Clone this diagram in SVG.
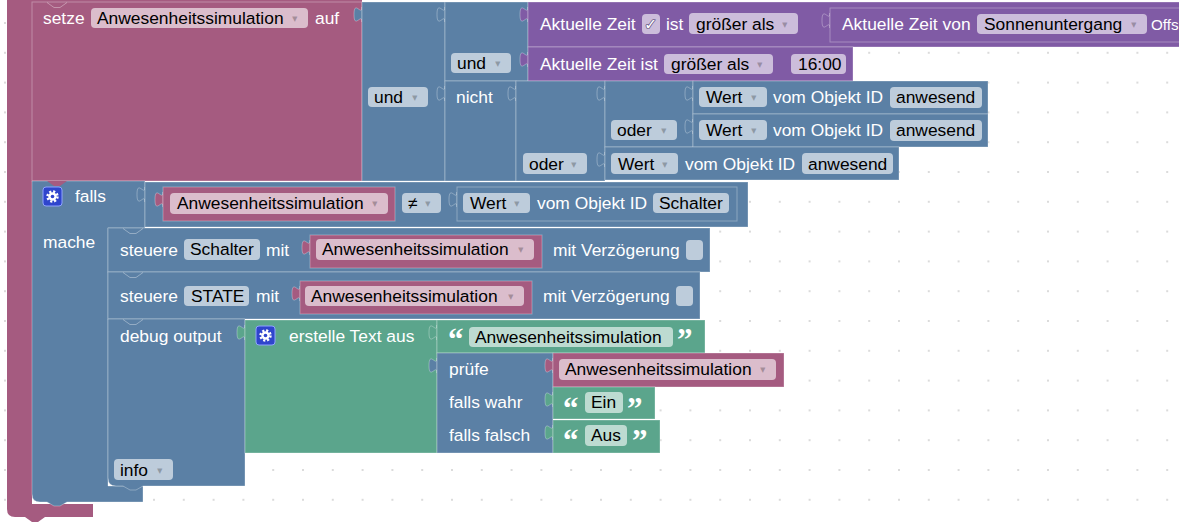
<svg xmlns="http://www.w3.org/2000/svg" xmlns:xlink="http://www.w3.org/1999/xlink" width="1179" height="526" viewBox="0 0 1179 526">
<defs>
<pattern id="grid" x="4" y="22" width="29.8" height="29.8" patternUnits="userSpaceOnUse"><circle cx="1" cy="1" r="1" fill="#cfcfcf"/></pattern>
<path id="tab" d="M0,5 c0,10 -8,-8 -8,7.5 s8,-2.5 8,7.5 z"/>
<g id="gear"><rect x="0" y="0" width="19" height="19" rx="3" fill="#2f45cc" stroke="#8fa3ff" stroke-width="1"/><circle cx="9.5" cy="9.5" r="5" fill="none" stroke="#fff" stroke-width="2.4" stroke-dasharray="2.1 1.83"/><circle cx="9.5" cy="9.5" r="4.2" fill="#fff"/><circle cx="9.5" cy="9.5" r="1.8" fill="#2f45cc"/></g>
</defs>
<style>
.pk{fill:#a55b80}.bl{fill:#5b80a5}.pu{fill:#805ba5}.gr{fill:#5ba58c}
.blk{stroke:#ffffff;stroke-opacity:.3;stroke-width:1}
.fld{fill:#fff;fill-opacity:.6}
.lbl{font-family:"Liberation Sans",Arial,sans-serif;font-size:17.4px;fill:#fff}
.ft{font-family:"Liberation Sans",Arial,sans-serif;font-size:17.4px;fill:#000}
.arr{font-family:"DejaVu Sans",sans-serif;font-size:11px;fill:#000;fill-opacity:.25}
.chk{font-family:"DejaVu Sans",sans-serif;font-size:16px;fill:#fff;stroke:#6a5a88;stroke-width:1.6;paint-order:stroke}
.q{font-family:"Liberation Serif",serif;font-weight:bold;font-size:31px;fill:#fff}
.ln{fill:none;stroke:#fff;stroke-opacity:.35;stroke-width:1}
</style>
<rect width="1179" height="526" fill="#fff"/>
<rect width="1179" height="526" fill="url(#grid)"/>

<g id="frame">
<path class="pk" d="M7,0 H362 V2 H32 V504 H93 V517 H45 l-7,5 h-6 l-7,-5 H15 Q7,517 7,509 Z"/>
</g>

<g id="setze">
<rect class="pk blk" x="32" y="2" width="330" height="179"/>
<path class="ln" d="M47,2.5 l7,5 h6 l7,-5"/>
<text class="lbl" x="43" y="24">setze</text>
<rect class="fld" x="91" y="8" width="217" height="20" rx="4"/>
<text class="ft" x="97" y="24">Anwesenheitssimulation</text>
<text class="arr" x="292" y="22">▾</text>
<text class="lbl" x="315" y="24">auf</text>
</g>

<g id="und-outer">
<use xlink:href="#tab" x="362" y="2" class="bl blk"/>
<rect class="bl blk" x="362" y="2" width="83" height="179"/>
<rect class="fld" x="368" y="87" width="60" height="20" rx="4"/>
<text class="ft" x="374" y="103">und</text>
<text class="arr" x="412" y="101">▾</text>
</g>

<g id="und-inner">
<use xlink:href="#tab" x="445" y="2" class="bl blk"/>
<rect class="bl blk" x="445" y="2" width="83" height="79"/>
<rect class="fld" x="451" y="53" width="60" height="20" rx="4"/>
<text class="ft" x="457" y="69">und</text>
<text class="arr" x="495" y="67">▾</text>
</g>

<g id="zeit1">
<use xlink:href="#tab" x="528" y="2" class="pu blk"/>
<rect class="pu blk" x="528" y="2" width="670" height="45"/>
<text class="lbl" x="540" y="30">Aktuelle Zeit</text>
<rect class="fld" x="642" y="14" width="18" height="20" rx="4"/>
<text class="chk" x="644" y="30">✓</text>
<text class="lbl" x="666" y="30">ist</text>
<rect class="fld" x="689" y="13" width="109" height="21" rx="4"/>
<text class="ft" x="696" y="30">größer als</text>
<text class="arr" x="782" y="28">▾</text>
</g>

<g id="zeit-von">
<use xlink:href="#tab" x="830" y="8" class="pu blk"/>
<rect class="pu blk" x="830" y="8" width="370" height="34"/>
<text class="lbl" x="842" y="30">Aktuelle Zeit von</text>
<rect class="fld" x="977" y="14" width="170" height="20" rx="4"/>
<text class="ft" x="984" y="30">Sonnenuntergang</text>
<text class="arr" x="1131" y="28">▾</text>
<text class="lbl" x="1151" y="30" style="font-size:15.2px">Offs</text>
</g>

<g id="zeit2">
<use xlink:href="#tab" x="528" y="47" class="pu blk"/>
<rect class="pu blk" x="528" y="47" width="325" height="34"/>
<text class="lbl" x="540" y="70">Aktuelle Zeit ist</text>
<rect class="fld" x="664" y="54" width="109" height="20" rx="4"/>
<text class="ft" x="671" y="70">größer als</text>
<text class="arr" x="757" y="68">▾</text>
<rect class="fld" x="791" y="54" width="55" height="20" rx="4"/>
<text class="ft" x="798" y="70">16:00</text>
</g>

<g id="nicht">
<use xlink:href="#tab" x="445" y="81" class="bl blk"/>
<rect class="bl blk" x="445" y="81" width="71" height="100"/>
<text class="lbl" x="456" y="103">nicht</text>
</g>

<g id="oder-outer">
<use xlink:href="#tab" x="516" y="81" class="bl blk"/>
<rect class="bl blk" x="516" y="81" width="89" height="100"/>
<rect class="fld" x="523" y="153" width="64" height="21" rx="4"/>
<text class="ft" x="529" y="170">oder</text>
<text class="arr" x="571" y="168">▾</text>
</g>

<g id="oder-inner">
<use xlink:href="#tab" x="605" y="81" class="bl blk"/>
<rect class="bl blk" x="605" y="81" width="88" height="66"/>
<rect class="fld" x="611" y="120" width="66" height="20" rx="4"/>
<text class="ft" x="617" y="136">oder</text>
<text class="arr" x="661" y="134">▾</text>
</g>

<g id="wert1">
<use xlink:href="#tab" x="693" y="81" class="bl blk"/>
<rect class="bl blk" x="693" y="81" width="295" height="33"/>
<rect class="fld" x="699" y="87" width="68" height="20" rx="4"/>
<text class="ft" x="706" y="103">Wert</text>
<text class="arr" x="751" y="101">▾</text>
<text class="lbl" x="773" y="103">vom Objekt ID</text>
<rect class="fld" x="890" y="87" width="92" height="21" rx="4"/>
<text class="ft" x="896" y="103">anwesend</text>
</g>

<g id="wert2">
<use xlink:href="#tab" x="693" y="114" class="bl blk"/>
<rect class="bl blk" x="693" y="114" width="295" height="33"/>
<rect class="fld" x="699" y="120" width="68" height="20" rx="4"/>
<text class="ft" x="706" y="136">Wert</text>
<text class="arr" x="751" y="134">▾</text>
<text class="lbl" x="773" y="136">vom Objekt ID</text>
<rect class="fld" x="890" y="120" width="92" height="21" rx="4"/>
<text class="ft" x="896" y="136">anwesend</text>
</g>

<g id="wert3">
<use xlink:href="#tab" x="605" y="147" class="bl blk"/>
<rect class="bl blk" x="605" y="147" width="294" height="33"/>
<rect class="fld" x="611" y="153" width="67" height="21" rx="4"/>
<text class="ft" x="618" y="170">Wert</text>
<text class="arr" x="662" y="168">▾</text>
<text class="lbl" x="685" y="170">vom Objekt ID</text>
<rect class="fld" x="802" y="153" width="91" height="21" rx="4"/>
<text class="ft" x="808" y="170">anwesend</text>
</g>

<g id="falls">
<path class="bl blk" d="M32,181 H145 V228 H108 V486 H143 V502 H67 l-7,4 h-6 l-7,-4 H40 Q32,502 32,494 Z"/>
<path class="pk" d="M47,181 l7,5 h6 l7,-5 Z"/>
<use xlink:href="#gear" x="43" y="187"/>
<text class="lbl" x="75" y="202">falls</text>
<text class="lbl" x="43" y="248">mache</text>
</g>

<g id="compare">
<use xlink:href="#tab" x="145" y="182" class="bl blk"/>
<rect class="bl blk" x="145" y="182" width="603" height="45"/>
<rect class="fld" x="402" y="193" width="39" height="20" rx="4"/>
<text class="ft" x="408" y="209">≠</text>
<text class="arr" x="425" y="207">▾</text>
</g>

<g id="var-get1">
<use xlink:href="#tab" x="163" y="187" class="pk blk"/>
<rect class="pk blk" x="163" y="187" width="232" height="34"/>
<rect class="fld" x="170" y="193" width="218" height="21" rx="4"/>
<text class="ft" x="177" y="209">Anwesenheitssimulation</text>
<text class="arr" x="372" y="207">▾</text>
</g>

<g id="wert-schalter">
<use xlink:href="#tab" x="457" y="187" class="bl blk"/>
<rect class="bl blk" x="457" y="187" width="280" height="34"/>
<rect class="fld" x="463" y="193" width="67" height="20" rx="4"/>
<text class="ft" x="470" y="209">Wert</text>
<text class="arr" x="514" y="207">▾</text>
<text class="lbl" x="537" y="209">vom Objekt ID</text>
<rect class="fld" x="653" y="193" width="76" height="20" rx="4"/>
<text class="ft" x="659" y="209">Schalter</text>
</g>

<g id="steuere1">
<rect class="bl blk" x="108" y="228" width="602" height="44"/>
<path class="ln" d="M123,228.5 l7,5 h6 l7,-5"/>
<text class="lbl" x="120" y="256">steuere</text>
<rect class="fld" x="184" y="239" width="76" height="21" rx="4"/>
<text class="ft" x="190" y="255">Schalter</text>
<text class="lbl" x="266" y="256">mit</text>
<text class="lbl" x="553" y="256">mit Verzögerung</text>
<rect class="fld" x="686" y="240" width="17" height="20" rx="4"/>
</g>

<g id="var-get2">
<use xlink:href="#tab" x="310" y="235" class="pk blk"/>
<rect class="pk blk" x="310" y="235" width="232" height="33"/>
<rect class="fld" x="316" y="239" width="218" height="21" rx="4"/>
<text class="ft" x="322" y="255">Anwesenheitssimulation</text>
<text class="arr" x="518" y="253">▾</text>
</g>

<g id="steuere2">
<rect class="bl blk" x="108" y="272" width="592" height="47"/>
<path class="ln" d="M123,272.5 l7,5 h6 l7,-5"/>
<text class="lbl" x="120" y="302">steuere</text>
<rect class="fld" x="184" y="286" width="65" height="20" rx="4"/>
<text class="ft" x="191" y="302">STATE</text>
<text class="lbl" x="256" y="302">mit</text>
<text class="lbl" x="543" y="302">mit Verzögerung</text>
<rect class="fld" x="676" y="286" width="17" height="20" rx="4"/>
</g>

<g id="var-get3">
<use xlink:href="#tab" x="300" y="281" class="pk blk"/>
<rect class="pk blk" x="300" y="281" width="232" height="33"/>
<rect class="fld" x="305" y="286" width="219" height="20" rx="4"/>
<text class="ft" x="311" y="302">Anwesenheitssimulation</text>
<text class="arr" x="508" y="300">▾</text>
</g>

<g id="debug">
<path class="bl blk" d="M108,319 H245 V486 H143 l-7,4 h-6 l-7,-4 H116 Q108,486 108,478 Z"/>
<path class="ln" d="M123,319.5 l7,5 h6 l7,-5"/>
<text class="lbl" x="120" y="342">debug output</text>
<rect class="fld" x="114" y="459" width="59" height="21" rx="4"/>
<text class="ft" x="120" y="476">info</text>
<text class="arr" x="157" y="474">▾</text>
</g>

<g id="text-join">
<use xlink:href="#tab" x="245" y="320" class="gr blk"/>
<rect class="gr blk" x="245" y="320" width="192" height="133"/>
<use xlink:href="#gear" x="256" y="326"/>
<text class="lbl" x="289" y="342">erstelle Text aus</text>
</g>

<g id="text1">
<use xlink:href="#tab" x="437" y="320" class="gr blk"/>
<rect class="gr blk" x="437" y="320" width="268" height="33"/>
<text class="q" x="448" y="350">“</text>
<rect class="fld" x="469" y="327" width="204" height="20" rx="4"/>
<text class="ft" x="475" y="343">Anwesenheitssimulation</text>
<text class="q" x="677" y="350">”</text>
</g>

<g id="ternary">
<use xlink:href="#tab" x="437" y="353" class="bl blk"/>
<rect class="bl blk" x="437" y="353" width="116" height="100"/>
<text class="lbl" x="449" y="375">prüfe</text>
<text class="lbl" x="449" y="408">falls wahr</text>
<text class="lbl" x="449" y="441">falls falsch</text>
</g>

<g id="var-get4">
<use xlink:href="#tab" x="553" y="353" class="pk blk"/>
<rect class="pk blk" x="553" y="353" width="231" height="34"/>
<rect class="fld" x="559" y="359" width="217" height="21" rx="4"/>
<text class="ft" x="565" y="375">Anwesenheitssimulation</text>
<text class="arr" x="760" y="373">▾</text>
</g>

<g id="text-ein">
<use xlink:href="#tab" x="553" y="387" class="gr blk"/>
<rect class="gr blk" x="553" y="387" width="102" height="32"/>
<text class="q" x="563" y="419">“</text>
<rect class="fld" x="585" y="392" width="38" height="21" rx="4"/>
<text class="ft" x="591" y="408">Ein</text>
<text class="q" x="627" y="419">”</text>
</g>

<g id="text-aus">
<use xlink:href="#tab" x="553" y="420" class="gr blk"/>
<rect class="gr blk" x="553" y="420" width="107" height="33"/>
<text class="q" x="563" y="451">“</text>
<rect class="fld" x="585" y="425" width="42" height="21" rx="4"/>
<text class="ft" x="591" y="441">Aus</text>
<text class="q" x="632" y="451">”</text>
</g>
</svg>
